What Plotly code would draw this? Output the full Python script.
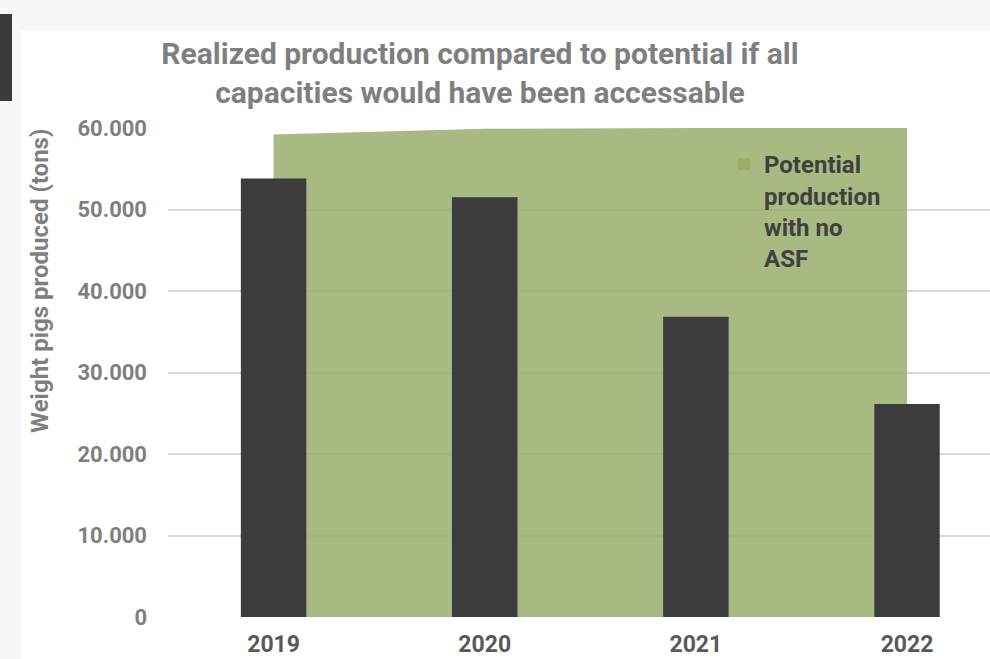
import plotly.graph_objects as go

years = ["2019", "2020", "2021", "2022"]
realized = [53800, 51500, 36850, 26150]
potential = [59200, 59900, 60000, 60000]

title_text = "Realized production compared to potential if all<br>capacities would have been accessable"
y_title = "Weight pigs produced (tons)"
legend_name = "Potential<br>production<br>with no<br>ASF"

GREEN = "#a9b982"
LEGEND_GREEN = "#9aae66"
DARK = "#3c3c3c"
GRAY = "#7f7f7f"

L, T, B = 168, 128, 42
PW, PH = 990 - L, 659 - T - B


def px(x):
    return (x - L) / PW


def py(y):
    return (659 - B - y) / PH


fig = go.Figure()

fig.add_trace(go.Scatter(
    x=years, y=potential, mode="lines", fill="tozeroy",
    line=dict(width=0, color=GREEN), fillcolor="rgba(154,173,108,0.86)",
    showlegend=False, hoverinfo="skip",
))
fig.add_trace(go.Scatter(
    x=[None], y=[None], mode="markers", name=legend_name,
    marker=dict(symbol="square", size=12, color=LEGEND_GREEN, line=dict(width=0)),
))
fig.add_trace(go.Bar(
    x=years, y=realized, marker=dict(color=DARK, line=dict(width=0)),
    yaxis="y2", showlegend=False, width=0.31,
))

fig.update_layout(
    width=990, height=659,
    margin=dict(l=L, r=0, t=T, b=B, autoexpand=False),
    barmode="overlay",
    paper_bgcolor="#f7f7f7",
    plot_bgcolor="white",
    separators=",.",
    font=dict(family="Roboto", color=GRAY),
    title=dict(text=title_text, x=480 / 990, xanchor="center", y=1 - 64 / 659, yanchor="top",
               font=dict(size=30, color=GRAY, family="Roboto", weight="bold")),
    xaxis=dict(range=[-0.5, 3.393], showgrid=False, showline=False, zeroline=False,
               automargin=False,
               tickfont=dict(size=23, color="#595959", family="Roboto", weight="bold"),
               ticks="", ticklabelstandoff=11),
    yaxis=dict(range=[0, 60000], tickvals=[0, 10000, 20000, 30000, 40000, 50000, 60000],
               tickformat=",d", showgrid=True, gridcolor="#d9d9d9", gridwidth=1.5,
               zeroline=False, showline=False, automargin=False,
               tickfont=dict(size=22, color=GRAY, family="Roboto", weight="bold"),
               ticklabelstandoff=20),
    yaxis2=dict(range=[0, 60000], overlaying="y", visible=False, showgrid=False),
    legend=dict(x=px(724), y=py(142), xanchor="left", yanchor="top",
                bgcolor="rgba(0,0,0,0)", valign="top", itemwidth=30,
                font=dict(size=24, color="#404040", family="Roboto", weight="bold")),
    annotations=[
        dict(text=y_title, xref="paper", yref="paper", x=px(40), y=py(281),
             xanchor="center", yanchor="middle", textangle=-90, showarrow=False,
             font=dict(size=24, color=GRAY, family="Roboto", weight="bold")),
    ],
    shapes=[
        dict(type="rect", xref="paper", yref="paper", layer="below",
             x0=px(21), x1=1.01, y0=py(670), y1=py(30),
             fillcolor="white", line=dict(width=0)),
        dict(type="rect", xref="paper", yref="paper", layer="below",
             x0=px(0), x1=px(12), y0=py(101), y1=py(14),
             fillcolor="#3a3a3a", line=dict(width=0)),
    ],
)

fig.write_html("out.html", config={"displayModeBar": False},
               post_script="document.body.style.margin='0';document.body.style.background='#f7f7f7';")
